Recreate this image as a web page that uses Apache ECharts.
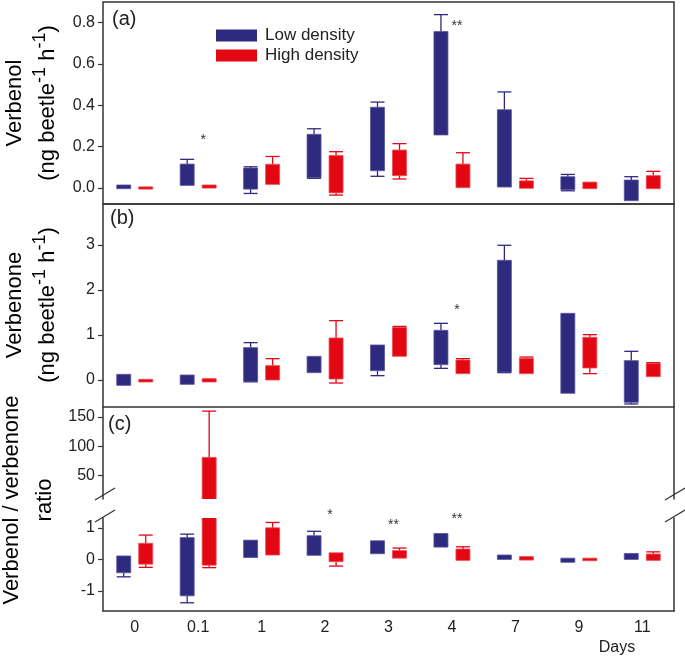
<!DOCTYPE html>
<html><head><meta charset="utf-8">
<script src="https://cdn.jsdelivr.net/npm/echarts@6/dist/echarts.min.js"></script>
<style>html,body{margin:0;padding:0;background:#fff}#c{width:685px;height:659px}</style>
</head><body><div id="c"></div>
<script>
// ---------- data ----------
const days = ['0', '0.1', '1', '2', '3', '4', '7', '9', '11'];
// each entry: [min, Q1, Q3, max]
const verbenolLow = [[-0.003,-0.003,0.015,0.015],[0.013,0.013,0.116,0.139],[-0.026,-0.005,0.097,0.103],[0.047,0.05,0.26,0.287],[0.057,0.084,0.391,0.416],[0.257,0.257,0.757,0.839],[0.005,0.005,0.379,0.465],[-0.013,-0.008,0.055,0.066],[-0.061,-0.061,0.039,0.055]];
const verbenolHigh = [[-0.005,-0.005,0.006,0.006],[0,0,0.015,0.015],[0.018,0.018,0.115,0.153],[-0.034,-0.023,0.158,0.176],[0.044,0.06,0.184,0.215],[0.002,0.002,0.116,0.171],[-0.001,-0.001,0.035,0.047],[-0.003,-0.003,0.029,0.029],[-0.003,-0.003,0.06,0.081]];
const verbenoneLow = [[-0.119,-0.119,0.126,0.126],[-0.096,-0.096,0.111,0.111],[-0.04,-0.037,0.719,0.83],[0.163,0.163,0.526,0.526],[0.096,0.207,0.778,0.778],[0.259,0.341,1.104,1.259],[0.163,0.178,2.659,2.993],[-0.296,-0.296,1.481,1.481],[-0.533,-0.496,0.43,0.637]];
const verbenoneHigh = [[-0.044,-0.044,0.015,0.015],[-0.044,-0.044,0.03,0.03],[0,0,0.319,0.474],[-0.067,0.022,0.933,1.319],[0.526,0.526,1.17,1.19],[0.141,0.141,0.444,0.474],[0.141,0.141,0.48,0.51],[0.141,0.267,0.948,1.007],[0.074,0.074,0.37,0.385]];
const ratioLow = [[-0.55,-0.42,0.11,0.11],[-1.37,-1.15,0.69,0.80],[0.06,0.06,0.61,0.61],[0.13,0.13,0.75,0.89],[0.18,0.18,0.59,0.59],[0.39,0.39,0.82,0.82],[0,0,0.14,0.14],[-0.09,-0.09,0.04,0.04],[0,0,0.19,0.19]];
const ratioHigh = [[-0.25,-0.15,0.51,0.77],[-0.26,-0.18,81,160],[0.14,0.14,1.0,1.17],[-0.21,-0.07,0.21,0.21],[0.04,0.04,0.28,0.36],[-0.03,-0.03,0.33,0.4],[-0.02,-0.02,0.09,0.09],[-0.04,-0.04,0.04,0.04],[-0.03,-0.03,0.17,0.24]];
// significance marks: [day index, y value, text]
const sigVerbenol = [[1, 0.234, '*'], [5, 0.783, '**']];
const sigVerbenone = [[5, 1.55, '*']];
const sigRatio = [[3, 1.41, '*'], [4, 1.09, '**'], [5, 1.27, '**']];
// tick labels
const ticksVerbenol = [0, 0.2, 0.4, 0.6, 0.8];
const ticksVerbenone = [0, 1, 2, 3];
const ticksRatioUpper = [50, 100, 150];
const ticksRatioLower = [-1, 0, 1];

// ---------- styling ----------
const FONT = 'Liberation Sans, Arial, sans-serif';
const BLUE = '#2e2a7e', BLUE_EDGE = '#5853a0';
const RED = '#e30613', RED_EDGE = '#ee4b52';
const AX = '#333';

function boxRender(offset, fill, edge) {
  return function (params, api) {
    const i = api.value(0);
    const vmin = api.value(1), q1 = api.value(2), q3 = api.value(3), vmax = api.value(4);
    const pQ1 = api.coord([i, q1]), pQ3 = api.coord([i, q3]);
    const pMin = api.coord([i, vmin]), pMax = api.coord([i, vmax]);
    const x = pQ1[0] + offset, hw = 7;
    const ls = { stroke: fill, lineWidth: 1.3 };
    const ch = [];
    if (vmax > q3) {
      ch.push({ type: 'line', shape: { x1: x, y1: pQ3[1], x2: x, y2: pMax[1] }, style: ls });
      ch.push({ type: 'line', shape: { x1: x - hw, y1: pMax[1], x2: x + hw, y2: pMax[1] }, style: ls });
    }
    if (vmin < q1) {
      ch.push({ type: 'line', shape: { x1: x, y1: pQ1[1], x2: x, y2: pMin[1] }, style: ls });
      ch.push({ type: 'line', shape: { x1: x - hw, y1: pMin[1], x2: x + hw, y2: pMin[1] }, style: ls });
    }
    ch.push({ type: 'rect', shape: { x: x - hw, y: pQ3[1], width: 2 * hw, height: Math.max(pQ1[1] - pQ3[1], 1) },
      style: { fill: fill, stroke: edge, lineWidth: 0.8 } });
    return { type: 'group', children: ch };
  };
}
function toRows(arr) { return arr.map((d, i) => [i, d[0], d[1], d[2], d[3]]); }
function boxSeries(name, arr, gi, offset, fill, edge) {
  return {
    type: 'custom', name: name, xAxisIndex: gi, yAxisIndex: gi, clip: true,
    itemStyle: { color: fill },
    renderItem: boxRender(offset, fill, edge),
    encode: { x: 0, y: [1, 2, 3, 4] },
    data: toRows(arr), silent: true
  };
}
function sigSeries(arr, gi) {
  return {
    type: 'custom', xAxisIndex: gi, yAxisIndex: gi, clip: false, silent: true,
    encode: { x: 0, y: 1 },
    renderItem: function (params, api) {
      const p = api.coord([api.value(0), api.value(1)]);
      return { type: 'text', x: p[0] + 5, y: p[1],
        style: { text: arr[params.dataIndex][2], fontSize: 14, fontFamily: FONT, fill: '#333',
          align: 'center', verticalAlign: 'middle' } };
    },
    data: arr.map(d => [d[0], d[1]])
  };
}
const G = { left: 103, width: 571 };
const grids = [
  { left: G.left, width: G.width, top: 2, height: 202, show: true, borderColor: AX, borderWidth: 1.5 },
  { left: G.left, width: G.width, top: 204, height: 203, show: true, borderColor: AX, borderWidth: 1.5 },
  { left: G.left, width: G.width, top: 407, height: 92 },
  { left: G.left, width: G.width, top: 518, height: 93 }
];
function xAx(gi, showLabels) {
  return {
    type: 'category', gridIndex: gi, data: days, boundaryGap: true,
    axisTick: { show: false },
    axisLine: { show: gi === 3, onZero: false, lineStyle: { color: AX, width: 1.5 } },
    axisLabel: { show: showLabels, fontSize: 16, color: '#222', fontFamily: FONT, margin: 9 },
    splitLine: { show: false }
  };
}
function yAx(gi, min, max, ticks, fmt, showLine) {
  return {
    type: 'value', gridIndex: gi, min: min, max: max,
    axisLine: { show: showLine, onZero: false, lineStyle: { color: AX, width: 1.5 } },
    axisTick: { show: true, length: 5, lineStyle: { color: AX, width: 1.2 }, customValues: ticks },
    axisLabel: { fontSize: 16, color: '#222', fontFamily: FONT, margin: 8, customValues: ticks, formatter: fmt },
    splitLine: { show: false }
  };
}
function yRight(gi, min, max) {
  return {
    type: 'value', gridIndex: gi, position: 'right', min: min, max: max,
    axisLine: { show: true, onZero: false, lineStyle: { color: AX, width: 1.5 } },
    axisTick: { show: false }, axisLabel: { show: false }, splitLine: { show: false }
  };
}
const titleRich = {
  t: { fontSize: 22, lineHeight: 33, fontFamily: FONT, color: '#222' },
  s: { fontSize: 18, fontFamily: FONT, color: '#222', verticalAlign: 'top' }
};
function vTitle(x, y, text) {
  return { type: 'text', x: x, y: y, rotation: Math.PI / 2, silent: true,
    style: { text: text, rich: titleRich, align: 'center', verticalAlign: 'middle' } };
}
function txt(x, y, text, size, align) {
  return { type: 'text', x: x, y: y, silent: true,
    style: { text: text, fontSize: size, fontFamily: FONT, fill: '#222', align: align || 'left', verticalAlign: 'middle' } };
}
function brk(x, y) {
  return { type: 'line', silent: true, shape: { x1: x, y1: y + 6, x2: x + 20, y2: y - 6 }, style: { stroke: AX, lineWidth: 1.2 } };
}

const chart = echarts.init(document.getElementById('c'));
chart.setOption({
  animation: false,
  backgroundColor: '#fff',
  grid: grids,
  xAxis: [xAx(0, false), xAx(1, false), xAx(2, false), xAx(3, true)],
  yAxis: [
    yAx(0, -0.077, 0.9, ticksVerbenol, v => v.toFixed(1), false),
    yAx(1, -0.6, 3.91, ticksVerbenone, v => String(v), false),
    yAx(2, 10, 167, ticksRatioUpper, v => String(v), true),
    yAx(3, -1.63, 1.31, ticksRatioLower, v => String(v), true),
    yRight(2, 10, 167),
    yRight(3, -1.63, 1.31)
  ],
  legend: {
    data: ['Low density', 'High density'], orient: 'vertical', left: 211, top: 22,
    icon: 'rect', itemWidth: 41, itemHeight: 12, itemGap: 3, selectedMode: false,
    textStyle: { fontSize: 17, lineHeight: 17, color: '#222', fontFamily: FONT, padding: [0, 0, 0, 3] }
  },
  series: [
    boxSeries('Low density', verbenolLow, 0, -11, BLUE, BLUE_EDGE),
    boxSeries('High density', verbenolHigh, 0, 11, RED, RED_EDGE),
    boxSeries('Low density', verbenoneLow, 1, -11, BLUE, BLUE_EDGE),
    boxSeries('High density', verbenoneHigh, 1, 11, RED, RED_EDGE),
    boxSeries('Low density', ratioLow, 2, -11, BLUE, BLUE_EDGE),
    boxSeries('High density', ratioHigh, 2, 11, RED, RED_EDGE),
    boxSeries('Low density', ratioLow, 3, -11, BLUE, BLUE_EDGE),
    boxSeries('High density', ratioHigh, 3, 11, RED, RED_EDGE),
    sigSeries(sigVerbenol, 0),
    sigSeries(sigVerbenone, 1),
    sigSeries(sigRatio, 3)
  ],
  graphic: [
    vTitle(31, 103, '{t|Verbenol}\n{t|(ng beetle}{s|-1}{t| h}{s|-1}{t|)}'),
    vTitle(31, 305, '{t|Verbenone}\n{t|(ng beetle}{s|-1}{t| h}{s|-1}{t|)}'),
    vTitle(28, 500, '{t|Verbenol / verbenone}\n{t|ratio}'),
    txt(112, 19, '(a)', 20), txt(110, 218, '(b)', 20), txt(108, 424, '(c)', 20),
    txt(617, 648, 'Days', 16, 'center'),
    brk(95, 494), brk(95, 516), brk(665, 494), brk(665, 516)
  ]
});
</script></body></html>
